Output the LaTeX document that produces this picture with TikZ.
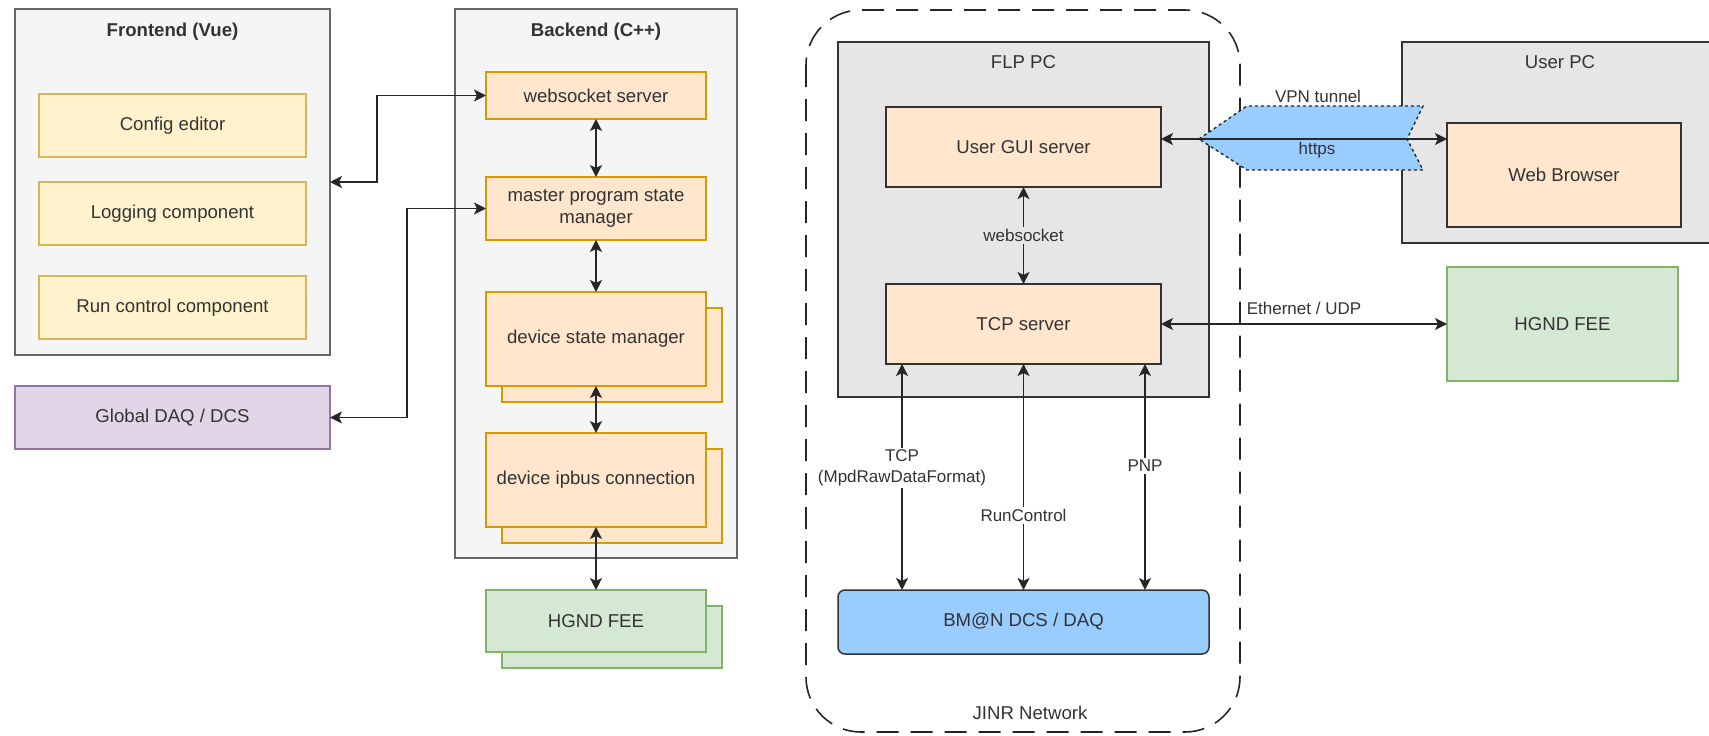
\documentclass[tikz,border=0pt]{standalone}
\usepackage{fontspec}
\setmainfont{Liberation Sans}
\usetikzlibrary{arrows.meta,calc}
\definecolor{frontbg}{HTML}{F5F5F5}
\definecolor{frontln}{HTML}{666666}
\definecolor{yelbg}{HTML}{FFF2CC}
\definecolor{yelln}{HTML}{D6B656}
\definecolor{orbg}{HTML}{FFE6CC}
\definecolor{orln}{HTML}{D79B00}
\definecolor{purbg}{HTML}{E1D5E7}
\definecolor{purln}{HTML}{9673A6}
\definecolor{grnbg}{HTML}{D5E8D4}
\definecolor{grnln}{HTML}{82B366}
\definecolor{pcbg}{HTML}{E6E6E6}
\definecolor{darkln}{HTML}{333333}
\definecolor{bluebg}{HTML}{99CCFF}
\definecolor{txt}{HTML}{333333}
\tikzset{
  box/.style={draw, rectangle, line width=1.5pt, inner sep=0pt, outer sep=0pt,
    align=center, text=txt, font=\fontsize{18.6}{22}\selectfont},
  dims/.style 2 args={minimum width=#1pt, minimum height=#2pt},
  container/.style={box, fill=frontbg, draw=frontln},
  ybox/.style={box, fill=yelbg, draw=yelln},
  obox/.style={box, fill=orbg, draw=orln},
  pbox/.style={box, fill=purbg, draw=purln},
  gbox/.style={box, fill=grnbg, draw=grnln},
  pcbox/.style={box, fill=pcbg, draw=darkln},
  darkbox/.style={box, fill=orbg, draw=darkln},
  title/.style={text=txt, font=\fontsize{18.6}{22}\selectfont\bfseries, inner sep=0pt},
  plain/.style={text=txt, font=\fontsize{18.6}{22}\selectfont, inner sep=0pt},
  elabel/.style={text=txt, font=\fontsize{17}{21}\selectfont, align=center, inner sep=2pt},
  tip/.tip={Stealth[length=12pt, width=12pt, inset=3pt]},
  link/.style={line width=1.8pt, draw=black!85, tip-tip},
}
\begin{document}
\begin{tikzpicture}[x=1pt, y=-1pt]
\useasboundingbox (0,0) rectangle (1709,736);

% ---------- Frontend ----------
\node[container, dims={315}{346}] (fe) at (172.5,182) {};
\node[title] (fetitle) at (172.5,32) {Frontend (Vue)};
\node[ybox, dims={267}{63}] (cfg) at (172.5,125.5) {Config editor};
\node[ybox, dims={267}{63}] (log) at (172.5,213.5) {Logging component};
\node[ybox, dims={267}{63}] (run) at (172.5,307.5) {Run control component};
\node[pbox, dims={315}{63}] (gdaq) at (172.5,417.5) {Global DAQ / DCS};

% ---------- Backend ----------
\node[container, dims={282}{549}] (be) at (596,283.5) {};
\node[title] (betitle) at (596,32) {Backend (C++)};
\node[obox, dims={220}{47}] (ws) at (596,95.5) {websocket server};
\node[obox, dims={220}{63}] (mpsm) at (596,208.5) {master program state\\manager};
\node[obox, dims={220}{94}] (dsmB) at (612,355) {};
\node[obox, dims={220}{94}] (dsm) at (596,339) {device state manager};
\node[obox, dims={220}{94}] (ipbB) at (612,496) {};
\node[obox, dims={220}{94}] (ipb) at (596,480) {device ipbus connection};
\node[gbox, dims={220}{62}] (feeLB) at (612,637) {};
\node[gbox, dims={220}{62}] (feeL) at (596,621) {HGND FEE};

\draw[link] (ws.south) -- (mpsm.north);
\draw[link] (mpsm.south) -- (dsm.north);
\draw[link] (dsm.south) -- (ipb.north);
\draw[link] (ipb.south) -- (feeL.north);
\draw[link] (fe.east) -- ++(47,0) |- (ws.west);
\draw[link] (gdaq.east) -- ++(77,0) |- (mpsm.west);

% ---------- JINR network ----------
\draw[line width=1.6pt, black!85, dash pattern=on 22pt off 12pt, rounded corners=55pt]
  (806,10) rectangle (1240,732);
\node[plain] (jinr) at (1030,713) {JINR Network};

\node[pcbox, dims={371}{355}] (flp) at (1023.5,219.5) {};
\node[plain] (flptitle) at (1023.5,62) {FLP PC};
\node[darkbox, dims={275}{80}] (gui) at (1023.5,147) {User GUI server};
\node[darkbox, dims={275}{80}] (tcp) at (1023.5,324) {TCP server};
\node[box, fill=bluebg, draw=darkln, rounded corners=7pt, dims={371}{64}] (bmn) at (1023.5,622) {BM@N DCS / DAQ};

\draw[link] (gui.south) -- node[elabel, fill=pcbg] {websocket} (tcp.north);
\coordinate (tcpA) at (902,364);
\coordinate (tcpC) at (1145,364);
\draw[link] (tcpA) -- (bmn.north -| tcpA)
  node[elabel, fill=white, pos=0.46] {TCP\\(MpdRawDataFormat)};
\draw[link] (tcp.south) -- (bmn.north)
  node[elabel, fill=white, pos=0.67] {RunControl};
\draw[link] (tcpC) -- (bmn.north -| tcpC)
  node[elabel, fill=white, pos=0.45] {PNP};

% ---------- User PC ----------
\node[pcbox, dims={316}{201}] (upc) at (1560,142.5) {};
\node[plain] (upctitle) at (1560,62) {User PC};
\node[darkbox, dims={234}{104}] (wb) at (1564,175) {Web Browser};

% VPN tunnel
\coordinate (vpnL) at (1199,139);
\draw[line width=1.4pt, black!85, dashed, fill=bluebg]
  (vpnL) -- (1247,106) -- (1423,106) -- (1407,139) -- (1423,170) -- (1247,170) -- cycle;
\draw[link] (gui.east |- vpnL) -- (wb.west |- vpnL);
\node[elabel] (vpnlbl) at (1318,96) {VPN tunnel};
\node[elabel] (httpslbl) at (1317,150) {https};

% Remote front-end electronics
\node[gbox, dims={231}{114}] (feeR) at (1562.5,324) {HGND FEE};
\draw[link] (tcp.east) -- node[elabel, above=6pt] {Ethernet / UDP} (feeR.west);
\end{tikzpicture}
\end{document}
